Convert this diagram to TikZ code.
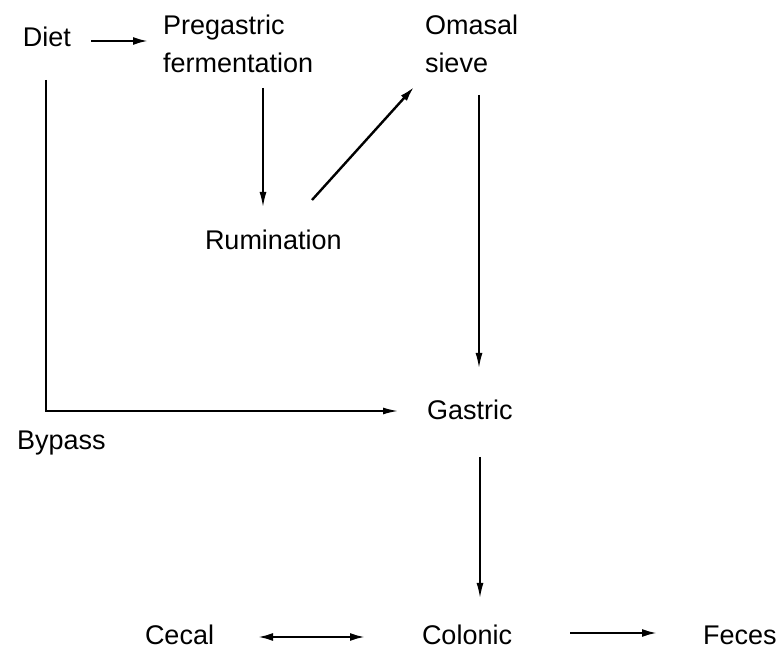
\documentclass[tikz,border=0pt]{standalone}
\usepackage{fontspec}
\setmainfont{Liberation Sans}
\usetikzlibrary{arrows.meta}
\tikzset{
  lbl/.style={inner sep=0pt, outer sep=0pt, anchor=base west, font=\fontsize{27}{37.5}\selectfont},
  thinarr/.style={line width=1.6pt, -{Latex[length=15pt,width=7pt]}},
  thickarr/.style={line width=2.2pt, -{Latex[length=15pt,width=8pt]}},
  dblarr/.style={line width=2.2pt, {Latex[length=15pt,width=8pt]}-{Latex[length=15pt,width=8pt]}},
}
\newcommand{\twolines}[2]{\begin{tabular}[t]{@{}l@{}}#1\\#2\end{tabular}}
\begin{document}
\begin{tikzpicture}[x=1pt,y=1pt]
\useasboundingbox (0,0) rectangle (782,650);
% nodes
\node[lbl] (diet) at (23,603) {Diet};
\node[lbl] (preg) at (163,615) {\twolines{Pregastric}{fermentation}};
\node[lbl] (omasal) at (425,615) {\twolines{Omasal}{sieve}};
\node[lbl] (rum) at (205,400) {Rumination};
\node[lbl] (gastric) at (427,230) {Gastric};
\node[lbl] (bypass) at (17,200) {Bypass};
\node[lbl] (cecal) at (145,5) {Cecal};
\node[lbl] (colonic) at (422,5) {Colonic};
\node[lbl] (feces) at (703,5) {Feces};
% connectors
\draw[thickarr] ([shift={(20pt,6pt)}]diet.base east) -- ([shift={(-15pt,-6pt)}]preg.base west);
\draw[thinarr] ([shift={(100pt,-53pt)}]preg.base west) -- ([shift={(58pt,43pt)}]rum.base west);
\draw[line width=2.4pt, -{Latex[length=15pt,width=8pt]}] ([shift={(107pt,50pt)}]rum.base west) -- ([shift={(-11pt,-52pt)}]omasal.base west);
\draw[thinarr] ([shift={(54pt,-60pt)}]omasal.base west) -- ([shift={(52pt,52pt)}]gastric.base west);
\draw[thinarr] ([shift={(23pt,-33pt)}]diet.base west) |- ([shift={(-29pt,9pt)}]gastric.base west);
\draw[thinarr] ([shift={(53pt,-37pt)}]gastric.base west) -- ([shift={(58pt,47pt)}]colonic.base west);
\draw[dblarr] ([shift={(113pt,8pt)}]cecal.base west) -- ([shift={(-57pt,8pt)}]colonic.base west);
\draw[thickarr] ([shift={(148pt,12pt)}]colonic.base west) -- ([shift={(-46pt,12pt)}]feces.base west);
\end{tikzpicture}
\end{document}
